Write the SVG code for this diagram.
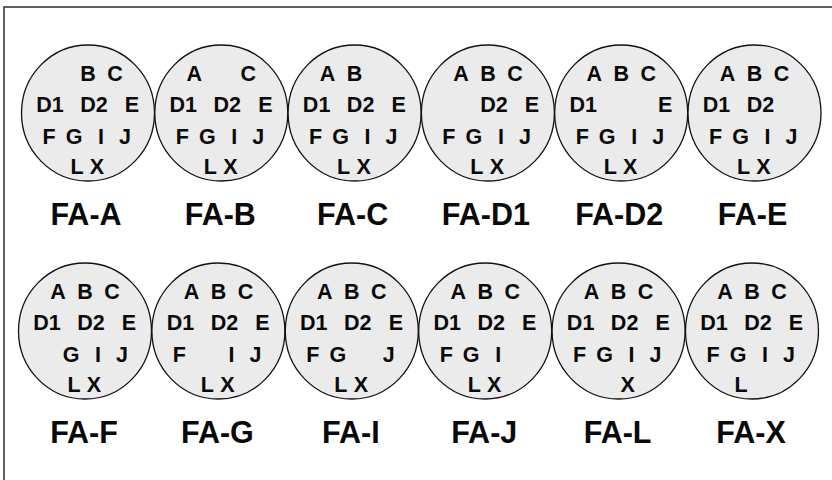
<svg xmlns="http://www.w3.org/2000/svg" width="832" height="480" viewBox="0 0 832 480">
<style>
.c{fill:#ebebeb;stroke:#111;stroke-width:1.3}
.p{font-family:"Liberation Sans",Arial,sans-serif;font-weight:bold;font-size:21.5px;fill:#0a0a0a;text-anchor:middle}
.t{font-family:"Liberation Sans",Arial,sans-serif;font-weight:bold;font-size:30.5px;fill:#0a0a0a;text-anchor:middle}
</style>
<rect x="4" y="7" width="840" height="490" fill="#fff" stroke="#3a3a3a" stroke-width="1.6"/>
<defs>
<g id="pA"><text class="p" x="-27" y="-32.5">A</text></g>
<g id="pB"><text class="p" x="0" y="-32.5">B</text></g>
<g id="pC"><text class="p" x="27" y="-32.5">C</text></g>
<g id="pD1"><text class="p" x="-38" y="-1.5">D1</text></g>
<g id="pD2"><text class="p" x="6" y="-1.5">D2</text></g>
<g id="pE"><text class="p" x="44" y="-1.5">E</text></g>
<g id="pF"><text class="p" x="-39" y="30.5">F</text></g>
<g id="pG"><text class="p" x="-14" y="30.5">G</text></g>
<g id="pI"><text class="p" x="13" y="30.5">I</text></g>
<g id="pJ"><text class="p" x="37" y="30.5">J</text></g>
<g id="pL"><text class="p" x="-11" y="60.5">L</text></g>
<g id="pX"><text class="p" x="9" y="60.5">X</text></g>
</defs>

<g id="FA-A" transform="translate(88,113)">
<ellipse class="c" rx="66.5" ry="68"/>
<use href="#pB"/><use href="#pC"/><use href="#pD1"/><use href="#pD2"/><use href="#pE"/><use href="#pF"/><use href="#pG"/><use href="#pI"/><use href="#pJ"/><use href="#pL"/><use href="#pX"/>
<text class="t" x="-2" y="112">FA-A</text>
</g>
<g id="FA-B" transform="translate(221.3,113)">
<ellipse class="c" rx="66.5" ry="68"/>
<use href="#pA"/><use href="#pC"/><use href="#pD1"/><use href="#pD2"/><use href="#pE"/><use href="#pF"/><use href="#pG"/><use href="#pI"/><use href="#pJ"/><use href="#pL"/><use href="#pX"/>
<text class="t" x="-1" y="112">FA-B</text>
</g>
<g id="FA-C" transform="translate(354.6,113)">
<ellipse class="c" rx="66.5" ry="68"/>
<use href="#pA"/><use href="#pB"/><use href="#pD1"/><use href="#pD2"/><use href="#pE"/><use href="#pF"/><use href="#pG"/><use href="#pI"/><use href="#pJ"/><use href="#pL"/><use href="#pX"/>
<text class="t" x="-2" y="112">FA-C</text>
</g>
<g id="FA-D1" transform="translate(487.9,113)">
<ellipse class="c" rx="66.5" ry="68"/>
<use href="#pA"/><use href="#pB"/><use href="#pC"/><use href="#pD2"/><use href="#pE"/><use href="#pF"/><use href="#pG"/><use href="#pI"/><use href="#pJ"/><use href="#pL"/><use href="#pX"/>
<text class="t" x="-2" y="112">FA-D1</text>
</g>
<g id="FA-D2" transform="translate(621.2,113)">
<ellipse class="c" rx="66.5" ry="68"/>
<use href="#pA"/><use href="#pB"/><use href="#pC"/><use href="#pD1"/><use href="#pE"/><use href="#pF"/><use href="#pG"/><use href="#pI"/><use href="#pJ"/><use href="#pL"/><use href="#pX"/>
<text class="t" x="-2" y="112">FA-D2</text>
</g>
<g id="FA-E" transform="translate(754.5,113)">
<ellipse class="c" rx="66.5" ry="68"/>
<use href="#pA"/><use href="#pB"/><use href="#pC"/><use href="#pD1"/><use href="#pD2"/><use href="#pF"/><use href="#pG"/><use href="#pI"/><use href="#pJ"/><use href="#pL"/><use href="#pX"/>
<text class="t" x="-2" y="112">FA-E</text>
</g>

<g id="FA-F" transform="translate(85,331)">
<ellipse class="c" rx="66.5" ry="68"/>
<use href="#pA"/><use href="#pB"/><use href="#pC"/><use href="#pD1"/><use href="#pD2"/><use href="#pE"/><use href="#pG"/><use href="#pI"/><use href="#pJ"/><use href="#pL"/><use href="#pX"/>
<text class="t" x="-1" y="112">FA-F</text>
</g>
<g id="FA-G" transform="translate(218.4,331)">
<ellipse class="c" rx="66.5" ry="68"/>
<use href="#pA"/><use href="#pB"/><use href="#pC"/><use href="#pD1"/><use href="#pD2"/><use href="#pE"/><use href="#pF"/><use href="#pI"/><use href="#pJ"/><use href="#pL"/><use href="#pX"/>
<text class="t" x="-1" y="112">FA-G</text>
</g>
<g id="FA-I" transform="translate(351.8,331)">
<ellipse class="c" rx="66.5" ry="68"/>
<use href="#pA"/><use href="#pB"/><use href="#pC"/><use href="#pD1"/><use href="#pD2"/><use href="#pE"/><use href="#pF"/><use href="#pG"/><use href="#pJ"/><use href="#pL"/><use href="#pX"/>
<text class="t" x="-1" y="112">FA-I</text>
</g>
<g id="FA-J" transform="translate(485.2,331)">
<ellipse class="c" rx="66.5" ry="68"/>
<use href="#pA"/><use href="#pB"/><use href="#pC"/><use href="#pD1"/><use href="#pD2"/><use href="#pE"/><use href="#pF"/><use href="#pG"/><use href="#pI"/><use href="#pL"/><use href="#pX"/>
<text class="t" x="-1" y="112">FA-J</text>
</g>
<g id="FA-L" transform="translate(618.6,331)">
<ellipse class="c" rx="66.5" ry="68"/>
<use href="#pA"/><use href="#pB"/><use href="#pC"/><use href="#pD1"/><use href="#pD2"/><use href="#pE"/><use href="#pF"/><use href="#pG"/><use href="#pI"/><use href="#pJ"/><use href="#pX"/>
<text class="t" x="-1" y="112">FA-L</text>
</g>
<g id="FA-X" transform="translate(752,331)">
<ellipse class="c" rx="66.5" ry="68"/>
<use href="#pA"/><use href="#pB"/><use href="#pC"/><use href="#pD1"/><use href="#pD2"/><use href="#pE"/><use href="#pF"/><use href="#pG"/><use href="#pI"/><use href="#pJ"/><use href="#pL"/>
<text class="t" x="-1" y="112">FA-X</text>
</g>
<g id="connectors"/>
</svg>
